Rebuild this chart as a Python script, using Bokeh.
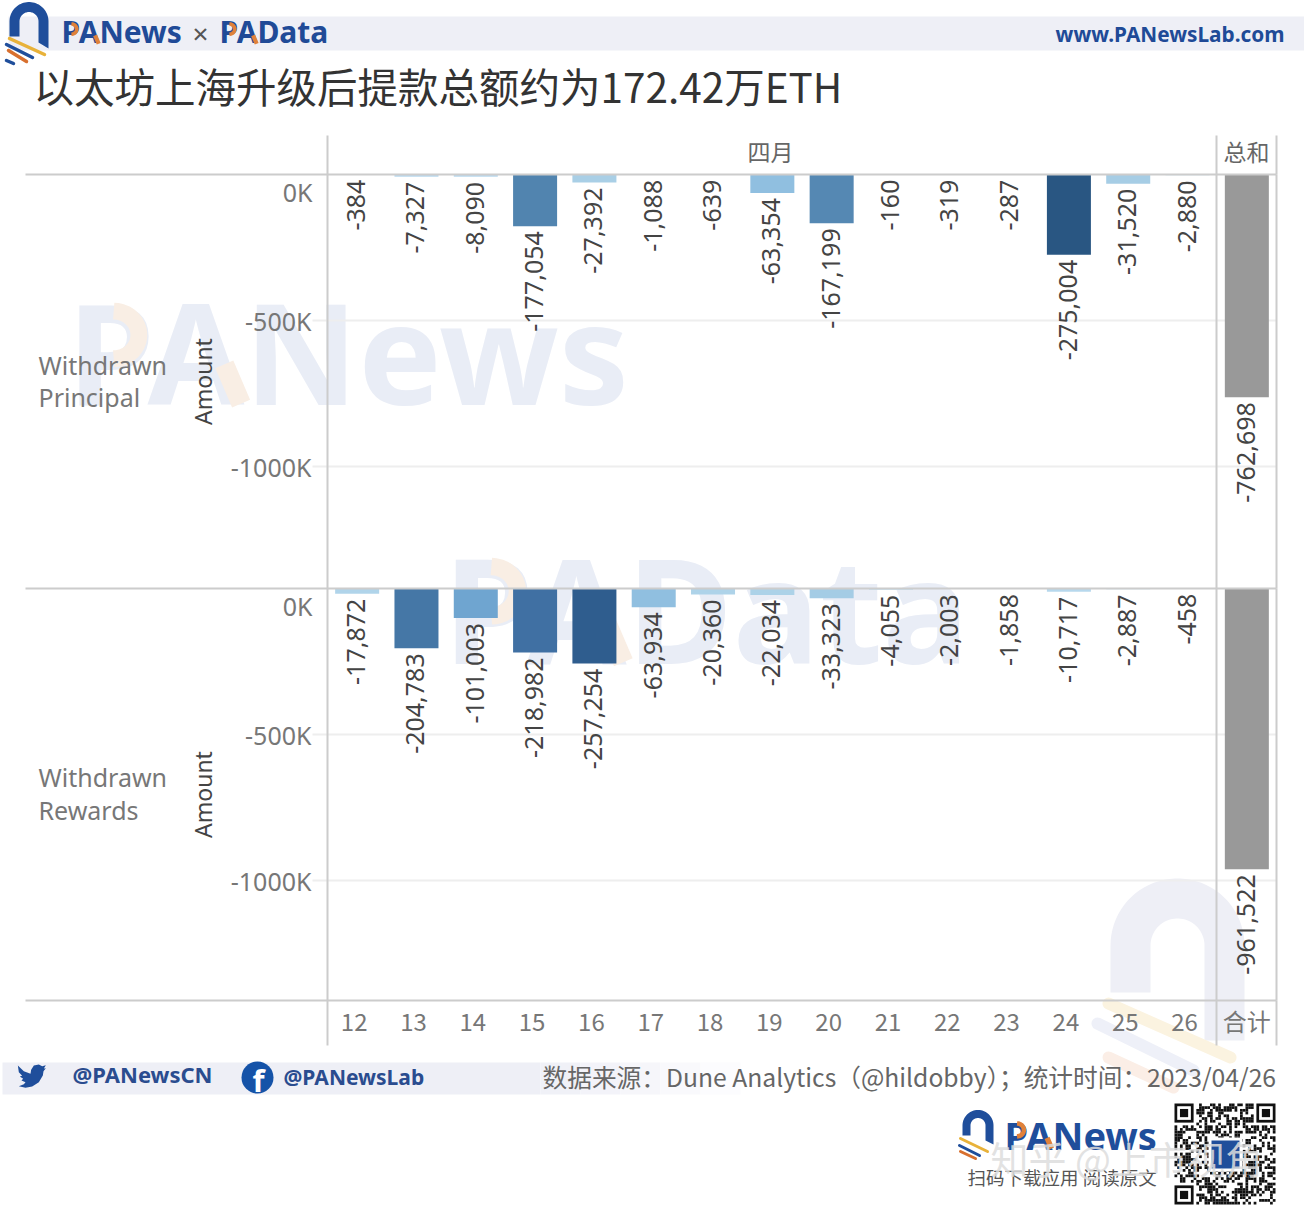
import numpy as np
from bokeh.plotting import figure
from bokeh.models import (ColumnDataSource, Range1d, LinearAxis, FixedTicker, LinearColorMapper)
from bokeh.core.properties import value
from bokeh.embed import file_html
from bokeh.resources import INLINE

# ---------- data ----------
days = [12,13,14,15,16,17,18,19,20,21,22,23,24,25,26]
total_pos = [27]
total_label = "合计"
principal = [-384,-7327,-8090,-177054,-27392,-1088,-639,-63354,-167199,-160,-319,-287,-275004,-31520,-2880]
rewards = [-17872,-204783,-101003,-218982,-257254,-63934,-20360,-22034,-33323,-4055,-2003,-1858,-10717,-2887,-458]
principal_total = [-762698]
rewards_total = [-961522]
y_ticks = [0,-500000,-1000000]
y_tick_labels = ["","-500K","-1000K"]

# ---------- style ----------
W, H = 1304, 1216
FONT = "Noto Sans"; CJK = "Noto Sans CJK SC"
BLUE = "#1f4e9b"; YEL = "#e8b23a"; ORG = "#d8702f"; BAND = "#eeeff6"; LINE = "#cccccc"; WM = "#e9edf6"
anchors_v = [0, 27000, 64000, 101000, 170000, 205000, 220000, 257000, 275004]
anchors_c = [(190,220,240),(168,207,230),(143,190,224),(111,165,208),(84,135,178),(69,119,166),(63,111,163),(47,93,142),(41,86,130)]
xs = np.linspace(0, 275004, 128)
palette = ["#%02x%02x%02x" % tuple(int(round(np.interp(x, anchors_v, [c[i] for c in anchors_c]))) for i in range(3)) for x in xs]
mapper = LinearColorMapper(palette=palette, low=0, high=275004)

# One frame fills the canvas; ranges are set so data land on the chart's pixels.
PX_DAY = 949 / 16
PX_PER_UNIT = 146 / 500000
def y_range_for(zero):
    return Range1d(-(H - zero) / PX_PER_UNIT, zero / PX_PER_UNIT)

p = figure(width=W, height=H, toolbar_location=None, output_backend="svg", min_border=0,
           outline_line_color=None,
           x_range=Range1d(11.5 - 327 / PX_DAY, 11.5 + (W - 327) / PX_DAY),
           y_range=Range1d(H, 0),
           extra_x_ranges={"px": Range1d(0, W)},
           extra_y_ranges={"p1": y_range_for(174), "p2": y_range_for(588)})
p.axis.visible = False
p.grid.visible = False
PX = dict(x_range_name="px")


def txt(text, x, y, size, color="#666666", align="left", baseline="alphabetic", font=FONT, style="normal",
        level="annotation", alpha=1.0):
    p.text([x], [y], text=[text], text_font=value(font), text_font_size=f"{size}px", text_color=color,
           text_align=align, text_baseline=baseline, text_font_style=style, text_alpha=alpha, level=level, **PX)


def hline(x0, x1, y, color=LINE, width=2):
    p.line([x0, x1], [y, y], line_color=color, line_width=width, **PX)


def vline(x, y0, y1, color=LINE, width=2):
    p.line([x, x], [y0, y1], line_color=color, line_width=width, **PX)


def arch(cx, cy, R, r, bottom_left, bottom_right):
    t = np.linspace(np.pi, 0, 40)
    ox = cx + R*np.cos(t); oy = cy - R*np.sin(t)
    ix = cx + r*np.cos(t[::-1]); iy = cy - r*np.sin(t[::-1])
    xs_ = [cx-R, *ox, cx+R, cx+R, cx+r, *ix, cx-r, cx-r]
    ys_ = [bottom_left[0], *oy, cy, bottom_right[0], bottom_right[1], *iy, bottom_left[1], bottom_left[0]]
    return xs_, ys_


def accent(x0, cy, s, color, level="annotation"):
    """Orange accents on the P bowl and the A foot of the PA logotype."""
    top = cy - .357*s
    t = np.linspace(-np.pi/2, np.pi/2, 20)
    p.line(x0 + .33*s + .18*s*np.cos(t), top + .21*s + .17*s*np.sin(t), line_color=color, line_width=.12*s, level=level, **PX)
    ax0 = x0 + .62*s
    p.line([ax0 + .50*s, ax0 + .62*s], [top + .42*s, top + .70*s], line_color=color, line_width=.14*s, level=level, **PX)


# ---------- watermarks (behind everything) ----------
txt("PANews", 67, 350, 140, WM, style="bold", level="underlay")
accent(67, 355, 140, "#f9eee4", level="underlay")
txt("PAData", 443, 607, 145, WM, style="bold", level="underlay")
accent(443, 612, 145, "#f9eee4", level="underlay")
wx, wy = arch(1177, 945, 67, 27, (992, 1000), (1040, 1040))
p.patch(wx, wy, fill_color=BAND, line_color=None, level="underlay", **PX)
for (a, b), c in (((( 1108, 1230), (1003, 1057)), "#fbf3e0"), (((1097, 1193), (1023, 1070)), "#eef0f8"), (((1108, 1173), (1057, 1087)), "#fbeee6")):
    p.line(a, b, line_color=c, line_width=12, line_cap="round", level="underlay", **PX)


# ---------- panels ----------
def panel(name, zero, bottom, vals, total, row_a, row_b, base_a, base_b):
    YR = dict(y_range_name=name)
    for t in y_ticks[1:]:
        p.line([312, 1276], [t, t], line_color="#eeeeee", line_width=2, level="underlay", **PX, **YR)
    src = ColumnDataSource(dict(x=days, v=vals, a=[abs(v) for v in vals], t=[f"{v:,}" for v in vals]))
    p.vbar(x="x", top=0, bottom="v", width=0.742, source=src, line_color=None,
           fill_color={"field": "a", "transform": mapper}, **YR)
    tsrc = ColumnDataSource(dict(x=total_pos, v=total, t=[f"{v:,}" for v in total]))
    p.vbar(x="x", top=0, bottom="v", width=0.742, source=tsrc, line_color=None, fill_color="#999999", **YR)
    for s in (src, tsrc):
        p.text(x="x", y="v", text="t", source=s, angle=np.pi/2, text_align="right", text_baseline="middle",
               text_font=value(FONT), text_font_size="25px", text_color="#444444", x_offset=-1, y_offset=5, **YR)
    ax = LinearAxis(y_range_name=name, fixed_location=11.5, bounds=(-(bottom - zero) / PX_PER_UNIT, 0),
                    ticker=FixedTicker(ticks=y_ticks),
                    major_label_overrides=dict(zip(y_ticks, y_tick_labels)),
                    major_tick_line_color=None, minor_tick_line_color=None,
                    axis_line_color=LINE, axis_line_width=2,
                    major_label_text_font=FONT, major_label_text_font_size="25px", major_label_text_color="#777777",
                    major_label_standoff=10,
                    axis_label="Amount", axis_label_text_font=FONT, axis_label_text_font_size="23px",
                    axis_label_text_font_style="normal", axis_label_text_color="#444444", axis_label_standoff=9)
    p.add_layout(ax, "left")
    p.text([312], [0], text=["0K"], text_font=value(FONT), text_font_size="25px", text_color="#777777",
           text_align="right", text_baseline="middle", y_offset=17, **PX, **YR)
    txt(row_a, 38, base_a, 25, "#777777")
    txt(row_b, 38, base_b, 25, "#777777")
    hline(25, 1276, zero)
    vline(1216, zero, bottom)
    vline(1276, zero, bottom)


panel("p1", 174, 588, principal, principal_total, "Withdrawn", "Principal", 364, 396)
panel("p2", 588, 1000, rewards, rewards_total, "Withdrawn", "Rewards", 776, 809)

tick_shift = 0.05   # the source's tick texts sit slightly left of the bar centres
xa = LinearAxis(fixed_location=986, bounds=(11.5, 27.5), ticker=FixedTicker(ticks=[d - tick_shift for d in days] + total_pos),
                major_label_overrides={**{d - tick_shift: str(d) for d in days}, total_pos[0]: total_label},
                major_tick_line_color=None, minor_tick_line_color=None, axis_line_color=None,
                major_label_text_font=CJK, major_label_text_font_size="24px", major_label_text_color="#777777",
                major_label_standoff=10)
p.add_layout(xa, "below")
hline(25, 1276, 1000)
for xp in (327, 1216, 1276):
    vline(xp, 135, 174)
    vline(xp, 1000, 1045)
txt("四月", 770, 150, 23, "#666666", align="center", baseline="middle", font=CJK)
txt("总和", 1246, 150, 23, "#666666", align="center", baseline="middle", font=CJK)

# ---------- header ----------
p.quad(left=[8], right=[1304], top=[16], bottom=[50], fill_color=BAND, line_color=None, level="underlay", **PX)
ax_, ay_ = arch(28.5, 21, 19.5, 9.5, (36, 32), (48, 42))
p.patch(ax_, ay_, fill_color=BLUE, line_color=None, **PX)
p.line([9, 44], [38, 54], line_color=YEL, line_width=3.5, line_cap="round", **PX)
p.line([6, 32], [44, 57], line_color=BLUE, line_width=3.5, line_cap="round", **PX)
p.line([8, 26], [50, 61], line_color=ORG, line_width=3.5, line_cap="round", **PX)
p.line([6, 13], [60, 63], line_color=BLUE, line_width=3.5, line_cap="round", **PX)
txt("PANews", 61, 31, 30, "#204a97", style="bold")
accent(61, 33, 30, "#e0813a")
txt("×", 200, 32, 28, "#555555", align="center")
txt("PAData", 219, 31, 30, "#204a97", style="bold")
accent(219, 33, 30, "#e0813a")
txt("www.PANewsLab.com", 1284, 33, 20.8, "#204a97", align="right", style="bold")
txt("以太坊上海升级后提款总额约为172.42万ETH", 33, 85, 40.5, "#333333", font=CJK)

# ---------- footer ----------
p.quad(left=[2], right=[540], top=[1062], bottom=[1094], fill_color=BAND, line_color=None, level="underlay", **PX)
for x0, x1, c in ((540, 580, "#f0f1f7"), (580, 620, "#f3f3f9"), (620, 660, "#f6f6fa"), (660, 700, "#f9f9fc"), (700, 740, "#fcfcfe")):
    p.quad(left=[x0], right=[x1], top=[1062], bottom=[1094], fill_color=c, line_color=None, level="underlay", **PX)
bird = [(52,75),(70,92),(90,100),(92,88),(100,75),(115,72),(125,77),(136,74),(130,84),(136,83),(129,92),(127,105),
        (115,125),(95,138),(75,142),(55,137),(70,131),(75,125),(63,120),(68,115),(58,108),(65,106),(55,95)]
p.patch([a/3 for a, _ in bird], [1040+b/3 for _, b in bird], fill_color=BLUE, line_color=None, **PX)
txt("@PANewsCN", 72, 1073, 22, "#2a4c8f", style="bold")
p.circle([257], [1077], radius=16, fill_color="#1553a8", line_color=None, **PX)
txt("f", 258, 1079, 31, "#ffffff", align="center", style="bold")
txt("@PANewsLab", 283, 1076, 21, "#2a4c8f", style="bold")
txt("数据来源：Dune Analytics（@hildobby）；统计时间：2023/04/26", 542, 1075, 24.7, "#666666", font=CJK)
bx, by = arch(977.5, 1125, 15.5, 7.5, (1135, 1132), (1144, 1140))
p.patch(bx, by, fill_color=BLUE, line_color=None, **PX)
p.line([960, 987], [1138, 1151], line_color=YEL, line_width=3, line_cap="round", **PX)
p.line([959, 979], [1145, 1155], line_color=BLUE, line_width=3, line_cap="round", **PX)
p.line([960, 975], [1151, 1158], line_color=ORG, line_width=3, line_cap="round", **PX)
txt("PANews", 1004, 1134, 38, BLUE, style="bold")
accent(1004, 1135, 38, "#e0813a")
txt("扫码下载应用 阅读原文", 967, 1176, 18.5, "#555555", font=CJK)
# QR-style square
n = 37; qx, qy = 1174, 1103; m = 101/n
left, right, tp, bt = [], [], [], []
state = 0xACE1
for r in range(n):
    for c in range(n):
        state = ((state >> 1) ^ (0xB400 if state & 1 else 0)) & 0xFFFF
        corner = (r < 8 and c < 8) or (r < 8 and c >= n-8) or (r >= n-8 and c < 8)
        if not corner and state & 1:
            left.append(qx+c*m); right.append(qx+(c+1)*m); tp.append(qy+r*m); bt.append(qy+(r+1)*m)
p.quad(left=left, right=right, top=tp, bottom=bt, fill_color="#111111", line_color=None, **PX)
for (cx, cy) in ((0, 0), (n-7, 0), (0, n-7)):
    p.quad(left=[qx+cx*m], right=[qx+(cx+7)*m], top=[qy+cy*m], bottom=[qy+(cy+7)*m], fill_color="#111111", line_color=None, **PX)
    p.quad(left=[qx+(cx+1)*m], right=[qx+(cx+6)*m], top=[qy+(cy+1)*m], bottom=[qy+(cy+6)*m], fill_color="#ffffff", line_color=None, **PX)
    p.quad(left=[qx+(cx+2)*m], right=[qx+(cx+5)*m], top=[qy+(cy+2)*m], bottom=[qy+(cy+5)*m], fill_color="#111111", line_color=None, **PX)
p.quad(left=[1208], right=[1242], top=[1137], bottom=[1171], fill_color="#ffffff", line_color=None, **PX)
p.quad(left=[1211], right=[1239], top=[1140], bottom=[1168], fill_color=BLUE, line_color=None, **PX)
txt("知乎 @上市视角", 990, 1157, 38, "#dddddd", font=CJK, alpha=0.85)

open("out.html", "w").write(file_html(p, INLINE))
